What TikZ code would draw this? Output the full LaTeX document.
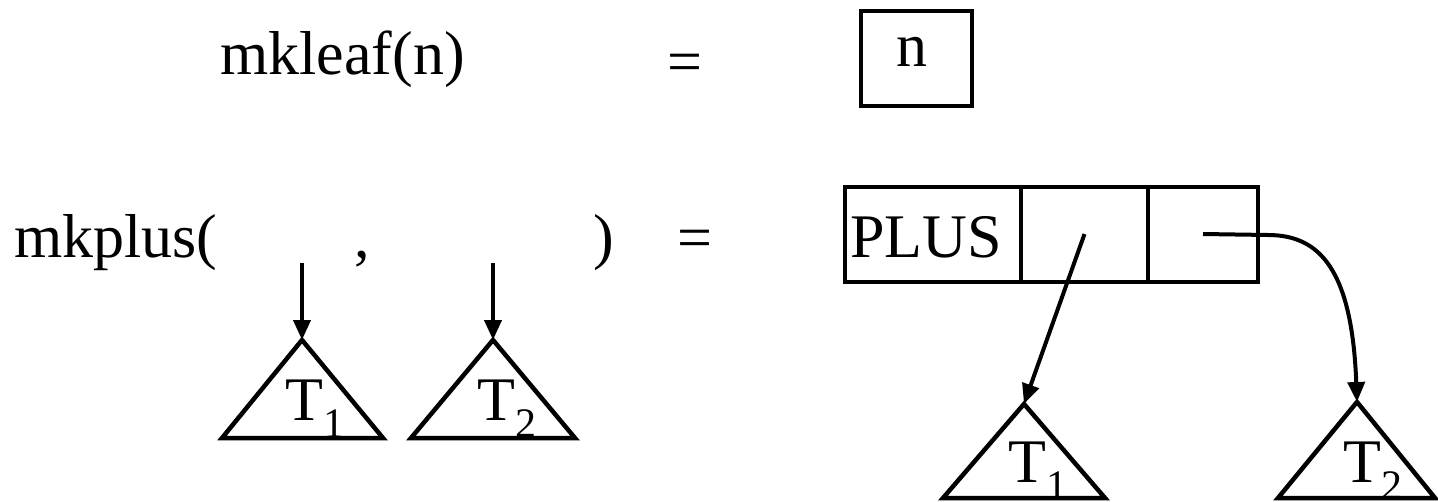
\documentclass[tikz,border=0pt]{standalone}
\usepackage{fontspec}
\setmainfont{Liberation Serif}
\usetikzlibrary{arrows.meta}
\begin{document}
\begin{tikzpicture}[x=1pt,y=-1pt,
  txt/.style={inner sep=0pt, font=\fontsize{62}{70}\selectfont},
  cell/.style={draw, line width=4pt, inner sep=0pt, minimum height=95pt},
  tri/.style={draw, line width=4.5pt, line join=miter},
  ptr/.style={line width=4pt, -{Triangle[length=20pt,width=17pt]}},
]
\useasboundingbox (0,0) rectangle (1438,501);
\newcommand{\tsub}[1]{T\raisebox{-17pt}{\fontsize{42}{42}\selectfont #1}}
% row 1
\node[txt, anchor=base west] (leaf) at (220,74) {mkleaf(n)};
\node[txt, anchor=base west] (eq1) at (667,82) {=};
\node[cell, minimum width=111pt] (nbox) at (916,58) {};
\node[txt, anchor=base] (nlab) at (912,66) {n};
% row 2
\node[txt, anchor=base west] (plus) at (14,257) {mkplus(};
\node[txt, anchor=base west] (comma) at (354,257) {,};
\node[txt, anchor=base west] (rpar) at (593,257) {)};
\node[txt, anchor=base west] (eq2) at (677,258) {=};
% PLUS record
\node[cell, minimum width=176pt] (pcell) at (933,234) {};
\node[cell, minimum width=127pt] (mcell) at (1084.5,234) {};
\node[cell, minimum width=110pt] (rcell) at (1203,234) {};
\node[txt, anchor=base west] (plab) at (850,257) {PLUS};
% left trees
\coordinate (a1) at (302,340);
\coordinate (a2) at (493,340);
\coordinate (s1) at (302,263);
\coordinate (s2) at (493,263);
\draw[tri] (a1) -- (222,438) -- (383,438) -- cycle;
\draw[tri] (a2) -- (411,438) -- (575,438) -- cycle;
\node[txt, anchor=base west] (lt1) at (285,420) {\tsub{1}};
\node[txt, anchor=base west] (lt2) at (477,420) {\tsub{2}};
\draw[ptr] (s1) -- (a1);
\draw[ptr] (s2) -- (a2);
% right trees
\coordinate (b1) at (1024,404);
\coordinate (b2) at (1357,402);
\draw[tri] (b1) -- (943,498) -- (1105,498) -- cycle;
\draw[tri] (b2) -- (1278,498) -- (1435,498) -- cycle;
\node[txt, anchor=base west] (rt1) at (1008,482) {\tsub{1}};
\node[txt, anchor=base west] (rt2) at (1343,482) {\tsub{2}};
\coordinate (bend) at (1268,235);
\draw[ptr] (mcell.center) -- (b1);
\draw[ptr] (rcell.center) -- (bend) .. controls (1320,235) and (1352,270) .. (b2);
\end{tikzpicture}
\end{document}
